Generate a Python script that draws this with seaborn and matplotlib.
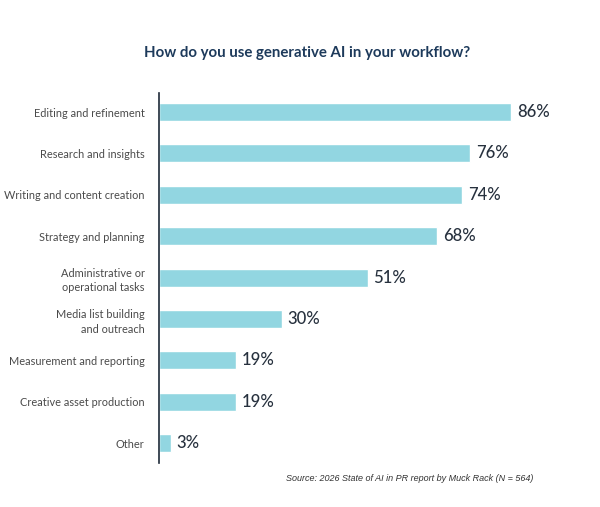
import matplotlib
matplotlib.use("Agg")
import matplotlib.pyplot as plt
import seaborn as sns
import pandas as pd

categories = [
    "Editing and refinement",
    "Research and insights",
    "Writing and content creation",
    "Strategy and planning",
    "Administrative or\noperational tasks",
    "Media list building\nand outreach",
    "Measurement and reporting",
    "Creative asset production",
    "Other",
]
values = [86, 76, 74, 68, 51, 30, 19, 19, 3]

title = "How do you use generative AI in your workflow?"
source = "Source: 2026 State of AI in PR report by Muck Rack (N = 564)"

sns.set_theme(style="white")
plt.rcParams["font.family"] = ["Lato", "DejaVu Sans"]

df = pd.DataFrame({"category": categories, "value": values})

fig = plt.figure(figsize=(6.0, 5.07), dpi=100)
ax = fig.add_axes([0.2642, 0.0875, 0.6833, 0.729])

sns.barplot(data=df, x="value", y="category", orient="h", color="#92d6e1",
            width=0.435, ax=ax, saturation=1)

ax.set_xlim(0, 100)
ax.set_ylim(8.47, -0.46)
ax.set_xlabel("")
ax.set_ylabel("")
ax.set_xticks([])
for s in ["top", "right", "bottom"]:
    ax.spines[s].set_visible(False)
ax.spines["left"].set_color("#1e2a38")
ax.spines["left"].set_linewidth(1.2)
ax.tick_params(axis="y", length=0, pad=10)
for lbl in ax.get_yticklabels():
    lbl.set_fontsize(7.9)
    lbl.set_color("#4a4a4a")
    lbl.set_fontweight("normal")
    lbl.set_linespacing(1.4)

for i, v in enumerate(values):
    ax.text(v + 1.4, i, f"{v}%", va="center", ha="left", fontsize=12,
            color="#27313e", fontweight="medium")

fig.text(0.512, 0.895, title, ha="center", va="center", fontsize=10.8,
         fontweight="bold", color="#1d3a5b")
fig.text(0.683, 0.057, source, ha="center", va="center", fontsize=6.5,
         style="italic", color="#333333", family=["Liberation Sans", "DejaVu Sans"])

fig.savefig("out.png", dpi=100)
